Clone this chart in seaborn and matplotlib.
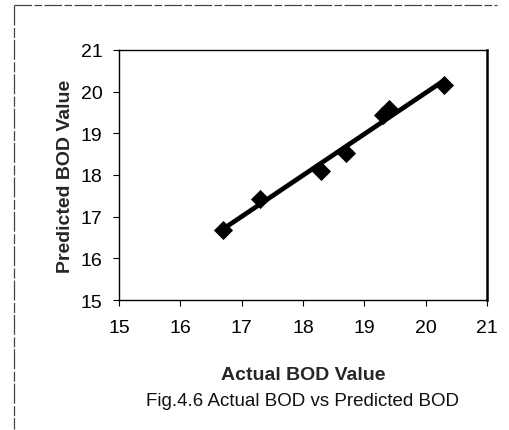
import matplotlib
matplotlib.use("Agg")
import matplotlib.pyplot as plt
from matplotlib.lines import Line2D
import numpy as np
import pandas as pd
import seaborn as sns

# Measured vs model-predicted BOD values
actual_bod = [16.7, 17.3, 18.3, 18.7, 19.3, 19.4, 20.3]
predicted_bod = [16.68, 17.43, 18.1, 18.52, 19.45, 19.58, 20.15]
axis_ticks = [15, 16, 17, 18, 19, 20, 21]

df = pd.DataFrame({"Actual": actual_bod, "Predicted": predicted_bod})

sns.set_style("white")
plt.rcParams["font.family"] = ["Liberation Sans", "DejaVu Sans"]

fig = plt.figure(figsize=(5.09, 4.31), dpi=100)
ax = fig.add_axes([0.2338, 0.3016, 0.7230, 0.5801])

sns.regplot(
    data=df, x="Actual", y="Predicted", ax=ax, ci=None,
    marker="D",
    scatter_kws=dict(s=95, color="black", edgecolor="black", linewidths=0,
                     alpha=1.0, zorder=3),
    line_kws=dict(color="black", linewidth=3.4, zorder=2),
)

ax.set_xlim(15, 21)
ax.set_ylim(15, 21)
ax.set_xticks(axis_ticks)
ax.set_yticks(axis_ticks)
ax.tick_params(axis="both", direction="out", length=4, width=0.8, color="black",
               labelsize=14, labelcolor="black", pad=8, bottom=True, left=True)
ax.tick_params(axis="x", pad=10)
for side, sp in ax.spines.items():
    sp.set_visible(True)
    sp.set_color("black")
    sp.set_linewidth(1.0)
ax.spines["right"].set_linewidth(1.8)

ax.set_xlabel("Actual BOD Value", fontsize=14, fontweight="bold", labelpad=21)
ax.set_ylabel("Predicted BOD Value", fontsize=14, fontweight="bold", labelpad=5)

fig.text(0.595, 0.0696, "Fig.4.6 Actual BOD vs Predicted BOD", ha="center", va="center",
         fontsize=13.5, color="#111111")

# Page frame lines around the figure
fig.add_artist(Line2D([14 / 509, 497 / 509], [1 - 6 / 431, 1 - 6 / 431],
                      transform=fig.transFigure, color="#444444", linewidth=0.9,
                      linestyle=(0, (14, 2, 6, 2))))
fig.add_artist(Line2D([14 / 509, 14 / 509], [1 - 6 / 431, 1 - 430 / 431],
                      transform=fig.transFigure, color="#444444", linewidth=0.9,
                      linestyle=(0, (16, 2, 8, 1.5))))

fig.savefig("out.png", dpi=100)
